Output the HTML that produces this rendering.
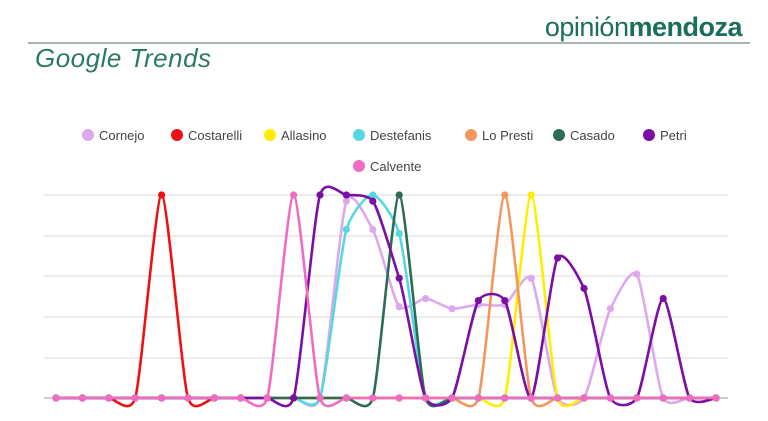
<!DOCTYPE html>
<html><head><meta charset="utf-8"><style>
body{margin:0;width:768px;height:421px;background:#fff;overflow:hidden;font-family:"Liberation Sans",sans-serif;position:relative}
.logo{position:absolute;right:26px;top:12px;font-size:27px;color:#1b6e5a;letter-spacing:-0.5px}
.logo b{font-weight:bold}
.rule{position:absolute;left:28px;top:42px;width:722px;height:2px;background:#a9b3b0}
.title{position:absolute;left:35px;top:43px;font-size:26px;font-style:italic;color:#2a7a66;letter-spacing:0.5px}
</style></head><body>
<div class="logo">opinión<b>mendoza</b></div>
<div class="rule"></div>
<div class="title">Google Trends</div>
<svg id="s" width="768" height="421" style="position:absolute;left:0;top:0"></svg>
<script>
const s=document.getElementById('s');let h='';
const leg=[["Cornejo","#dda8ee",82,135],["Costarelli","#ee1111",171,135],["Allasino","#ffee00",264,135],["Destefanis","#55d8e0",353,135],["Lo Presti","#f4975f",465,135],["Casado","#2e6b55",553,135],["Petri","#7b0fa5",643,135],["Calvente","#f06cc2",353,166]];
leg.forEach(l=>{h+=`<circle cx="${l[2]+6}" cy="${l[3]}" r="6" fill="${l[1]}"/><text x="${l[2]+17}" y="${l[3]+5}" font-size="13" fill="#444" font-family="Liberation Sans,sans-serif">${l[0]}</text>`});
[195,236,276,317,358].forEach(y=>h+=`<line x1="44" x2="728" y1="${y}" y2="${y}" stroke="#e0e0e0" stroke-width="1.2"/>`);
h+=`<line x1="44" x2="728" y1="398" y2="398" stroke="#999" stroke-width="1"/>`;
const X=i=>56+26.4*i,Y=v=>398-v*2.03;
function ser(m){const a=new Array(26).fill(0);for(const k in m)a[k]=m[k];return a}
const data=[
["#dda8ee",ser({11:97,12:83,13:45,14:49,15:44,16:46,17:46,18:59,21:44,22:61})],
["#ee1111",ser({4:100})],
["#ffee00",ser({18:100})],
["#55d8e0",ser({11:83,12:100,13:81})],
["#f4975f",ser({17:100})],
["#2e6b55",ser({13:100})],
["#7b0fa5",ser({10:100,11:100,12:97,13:59,16:48,17:48,19:69,20:54,23:49})],
["#f06cc2",ser({9:100})]];
const kx=0.11,ky=0.09;
data.forEach(([c,a])=>{
 const p=a.map((v,i)=>[X(i),Y(v)]);let d=`M${p[0][0]},${p[0][1]}`;
 for(let i=0;i<p.length-1;i++){const p0=p[Math.max(i-1,0)],p1=p[i],p2=p[i+1],p3=p[Math.min(i+2,p.length-1)];
  const c1=[p1[0]+(p2[0]-p0[0])*kx,p1[1]+(p2[1]-p0[1])*ky],c2=[p2[0]-(p3[0]-p1[0])*kx,p2[1]-(p3[1]-p1[1])*ky];
  d+=`C${c1[0].toFixed(1)},${c1[1].toFixed(1)} ${c2[0].toFixed(1)},${c2[1].toFixed(1)} ${p2[0].toFixed(1)},${p2[1].toFixed(1)}`}
 h+=`<path d="${d}" fill="none" stroke="${c}" stroke-width="2.6"/>`;
 p.forEach(q=>h+=`<circle cx="${q[0]}" cy="${q[1]}" r="3.6" fill="${c}"/>`);
});
s.innerHTML=h;
</script>
</body></html>
